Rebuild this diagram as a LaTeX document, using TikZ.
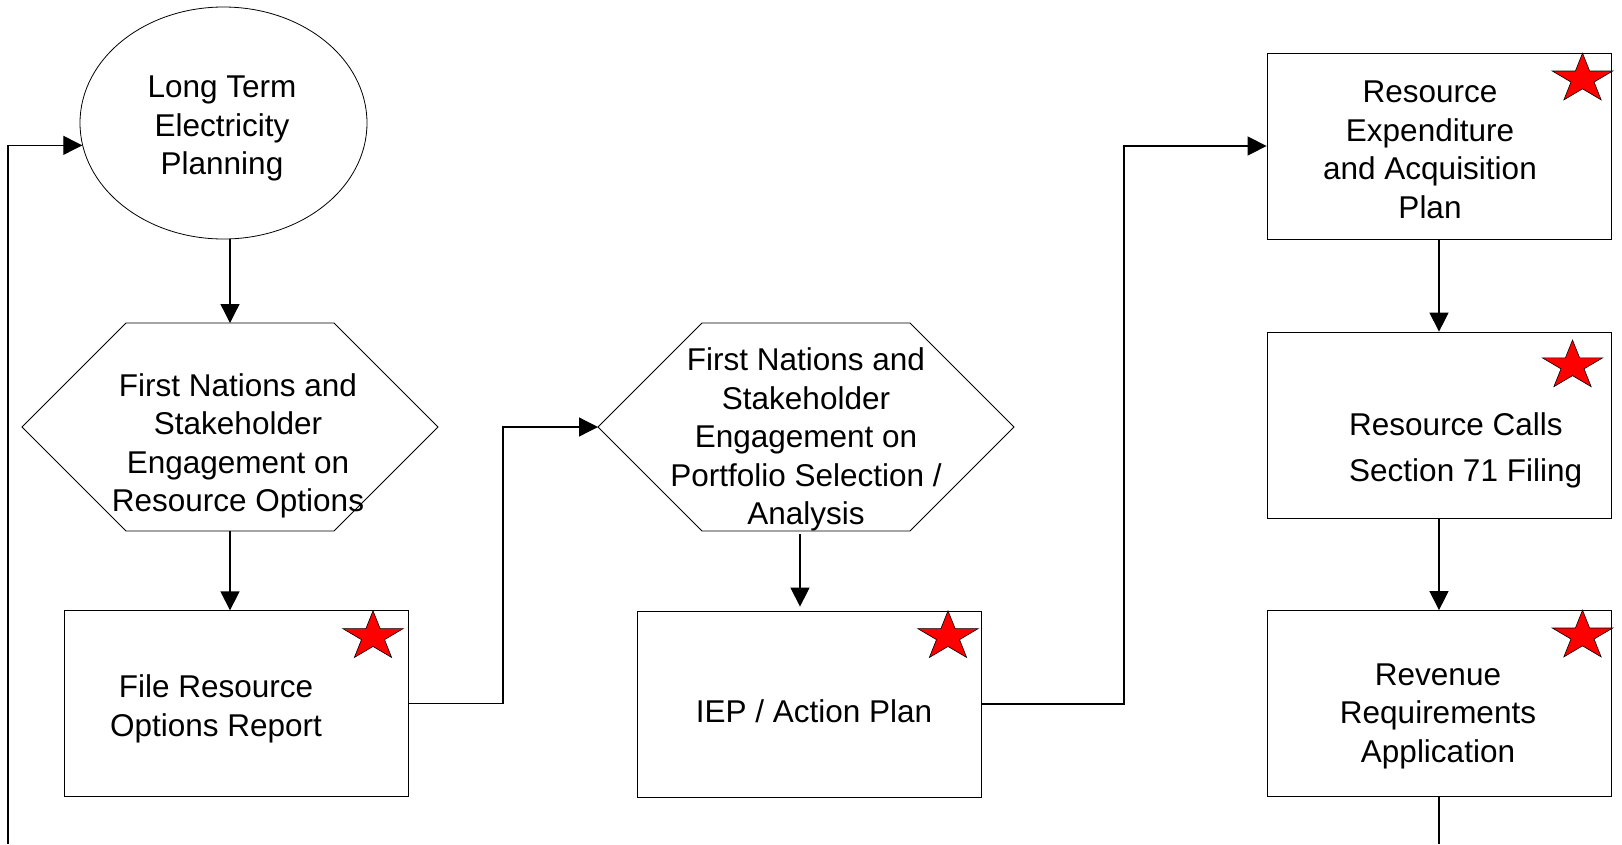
\documentclass[tikz,border=0pt]{standalone}
\usepackage{fontspec}
\setmainfont{Liberation Sans}
\usetikzlibrary{arrows.meta,shapes.geometric}
\tikzset{
  shapeline/.style={draw=black, line width=0.8pt},
  procbox/.style={shapeline, rectangle, minimum width=344pt, minimum height=186pt, inner sep=0pt},
  lbl/.style={align=center, inner sep=0pt, font=\fontsize{31.5}{38.5}\selectfont},
  conn/.style={line width=1.3pt, draw=black},
  arr/.style={conn, -{Triangle[length=19pt,width=19pt]}},
  redstar/.pic={
    \draw[fill=red, draw=black, line width=0.6pt, xscale=1.23]
      (270:25.8) -- (306:9.86) -- (342:25.8) -- (18:9.86) -- (54:25.8) --
      (90:9.86) -- (126:25.8) -- (162:9.86) -- (198:25.8) -- (234:9.86) -- cycle;
  }
}
\begin{document}
\begin{tikzpicture}[x=1pt,y=-1pt]
\useasboundingbox (0,0) rectangle (1622,844);
\fill[white] (0,0) rectangle (1622,844);

% ellipse
\node[shapeline, ellipse, minimum width=287pt, minimum height=232pt, inner sep=0pt] (ltep) at (223.5,123) {};
\node[lbl] (tltep) at (222,128.5) {Long Term\\Electricity\\Planning};

% hexagon 1
\coordinate (h1l) at (22,427);
\coordinate (h1tl) at (126,323);
\coordinate (h1tr) at (334,323);
\coordinate (h1r) at (438,427);
\coordinate (h1br) at (334,531);
\coordinate (h1bl) at (126,531);
\coordinate (h1t) at (230,323);
\coordinate (h1b) at (230,531);
\draw[shapeline] (h1l) -- (h1tl) -- (h1tr) -- (h1r) -- (h1br) -- (h1bl) -- cycle;
\node[lbl] (th1) at (238,446) {First Nations and\\Stakeholder\\Engagement on\\Resource Options};

% hexagon 2
\coordinate (h2l) at (598,427);
\coordinate (h2tl) at (702,323);
\coordinate (h2tr) at (910,323);
\coordinate (h2r) at (1014,427);
\coordinate (h2br) at (910,531);
\coordinate (h2bl) at (702,531);
\coordinate (h2b) at (800,534);
\draw[shapeline] (h2l) -- (h2tl) -- (h2tr) -- (h2r) -- (h2br) -- (h2bl) -- cycle;
\node[lbl] (th2) at (806,439.5) {First Nations and\\Stakeholder\\Engagement on\\Portfolio Selection /\\Analysis};

% boxes
\node[procbox] (box1) at (236.5,703.75) {};
\node[procbox] (box2) at (809.5,704) {};
\node[procbox] (box3) at (1439,146) {};
\node[procbox] (box4) at (1439,425) {};
\node[procbox] (box5) at (1439,703.5) {};

\node[lbl] (tb1) at (216,709) {File Resource\\Options Report};
\node[lbl, anchor=base] (tb2) at (814,722.6) {IEP / Action Plan};
\node[lbl] (tb3) at (1430,150) {Resource\\Expenditure\\and Acquisition\\Plan};
\node[lbl, align=left, anchor=west, font=\fontsize{31.5}{46}\selectfont] (tb4) at (1349,450) {Resource Calls\\Section 71 Filing};
\node[lbl] (tb5) at (1438,716) {Revenue\\Requirements\\Application};

% stars
\pic at (373,636.6) {redstar};
\pic at (948,636.6) {redstar};
\pic at (1582.5,79) {redstar};
\pic at (1572.5,365.8) {redstar};
\pic at (1582.5,636) {redstar};

% connectors
\coordinate (loopin) at (8,844);
\coordinate (exit) at (1439,844);
\draw[arr] (loopin) |- (ltep.189.3);
\draw[arr] (ltep.south -| h1t) -- (h1t);
\draw[arr] (h1b) -- (h1b |- box1.north);
\draw[arr] (box1.east) -- (503,703.75) |- (h2l);
\draw[arr] (h2b) -- ([yshift=4pt]h2b |- box2.north);
\draw[arr] (box2.east) -- (1124,704) |- (box3.west);
\draw[arr] (box3.south) -- (box4.north);
\draw[arr] (box4.south) -- (box5.north);
\draw[conn] (box5.south) -- (exit);
\end{tikzpicture}
\end{document}
